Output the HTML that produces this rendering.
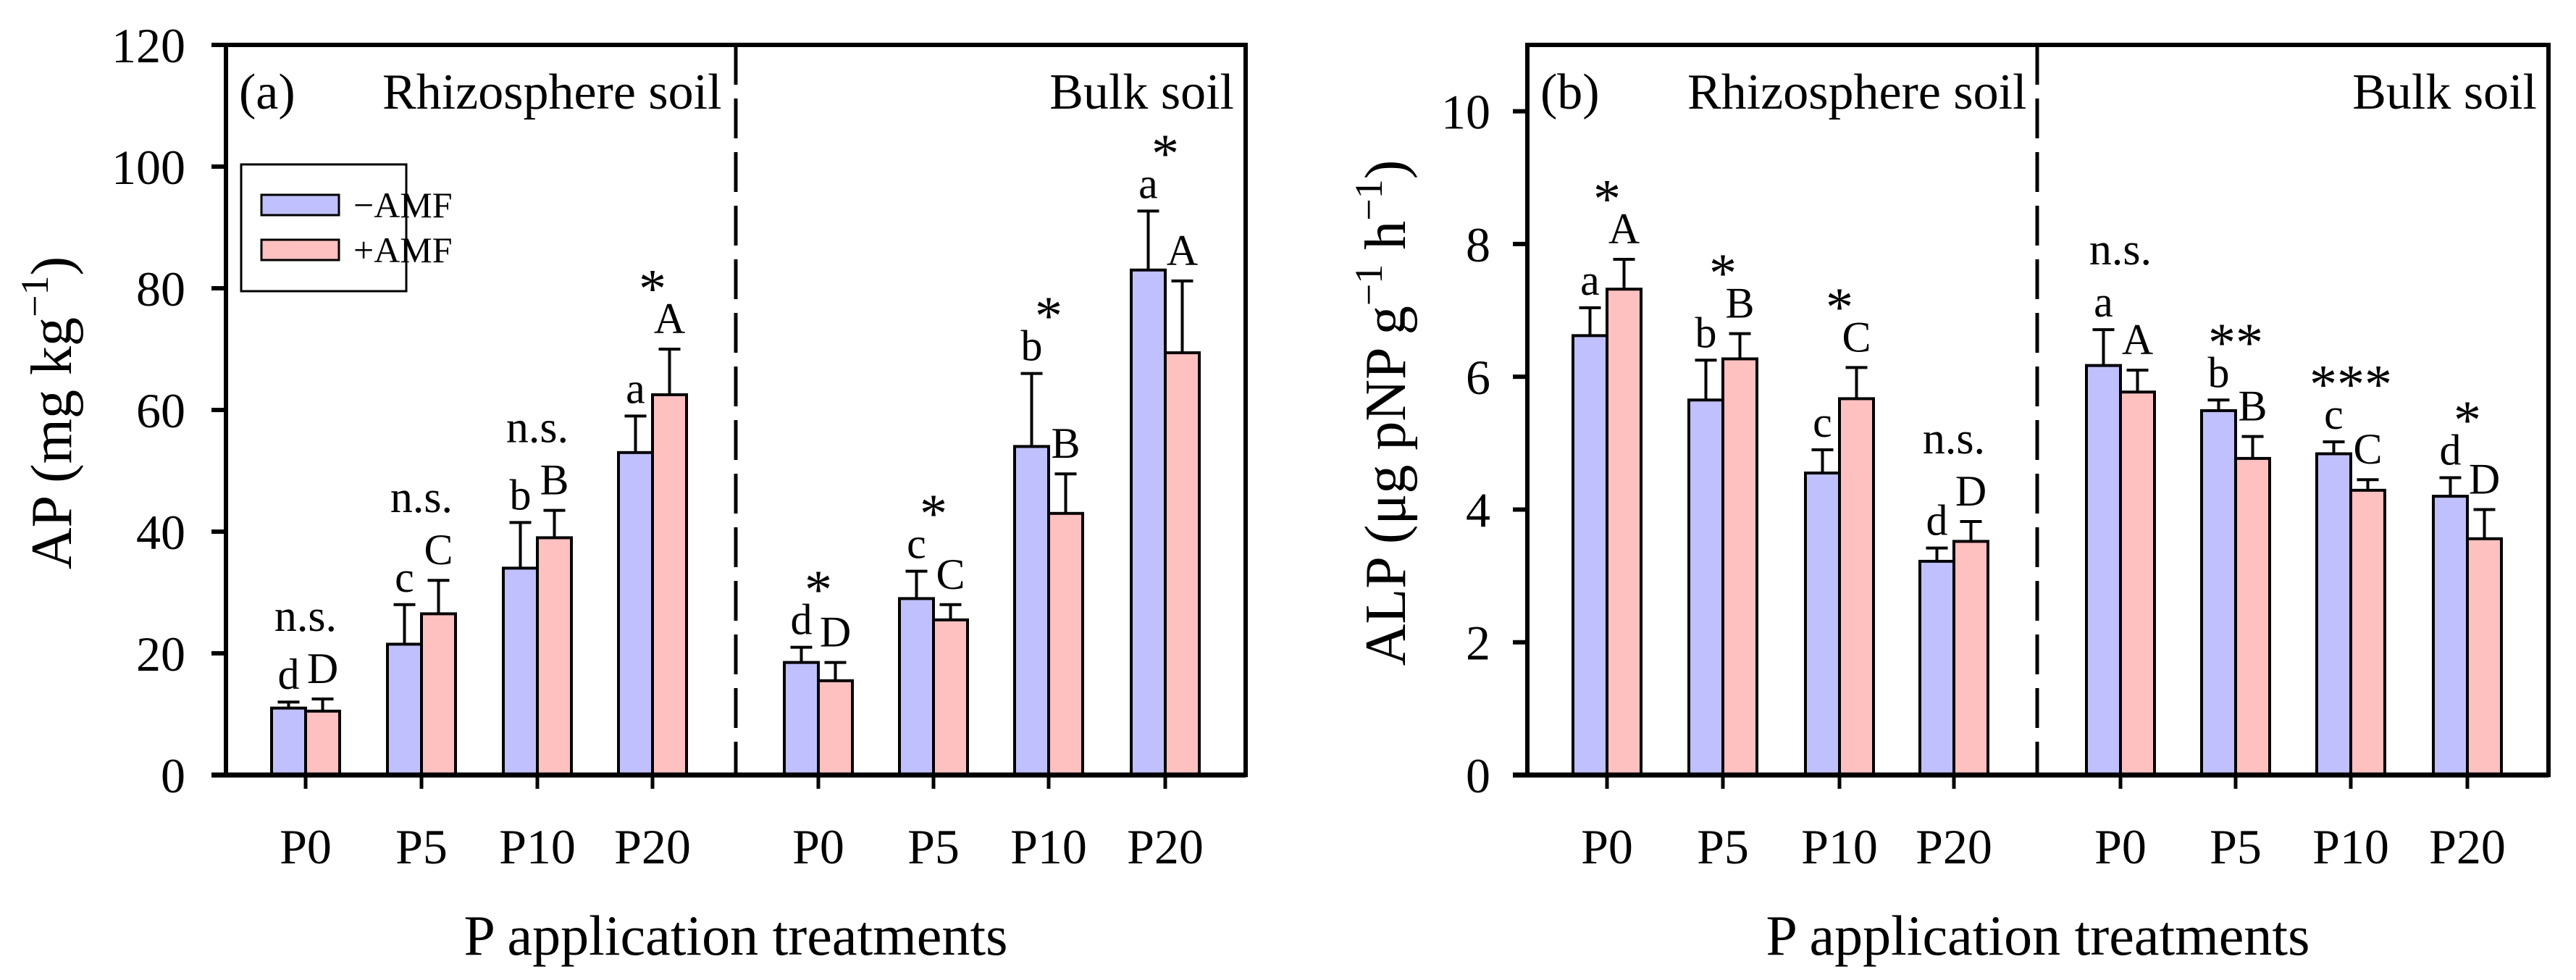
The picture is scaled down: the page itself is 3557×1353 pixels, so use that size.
<!DOCTYPE html>
<html><head><meta charset="utf-8">
<style>
html,body{margin:0;padding:0;background:#fff;}
svg{display:block;font-family:"Liberation Serif",serif;}
</style></head>
<body>
<svg id="chart" width="3557" height="1353" viewBox="0 0 3557 1353" xmlns="http://www.w3.org/2000/svg">
<rect x="0" y="0" width="3557" height="1353" fill="#fff"/>
</svg>
<script>
// ---- data ----
const categories = ["P0","P5","P10","P20","P0","P5","P10","P20"];
const apMinus = [11, 21.5, 34, 53, 18.5, 29, 54, 83];
const apMinusErr = [1, 6.5, 7.5, 6, 2.5, 4.5, 12, 9.7];
const apPlus = [10.5, 26.5, 39, 62.5, 15.5, 25.5, 43, 69.4];
const apPlusErr = [2, 5.5, 4.5, 7.5, 3, 2.5, 6.5, 11.8];
const apLower = ["d","c","b","a","d","c","b","a"];
const apUpper = ["D","C","B","A","D","C","B","A"];
const apSig = ["n.s.","n.s.","n.s.","*","*","*","*","*"];
const apTicks = [0,20,40,60,80,100,120];

const alpMinus = [6.62, 5.65, 4.55, 3.22, 6.17, 5.49, 4.84, 4.2];
const alpMinusErr = [0.42, 0.6, 0.35, 0.2, 0.54, 0.16, 0.18, 0.28];
const alpPlus = [7.32, 6.27, 5.67, 3.52, 5.77, 4.77, 4.29, 3.56];
const alpPlusErr = [0.45, 0.38, 0.47, 0.3, 0.33, 0.33, 0.16, 0.44];
const alpLower = ["a","b","c","d","a","b","c","d"];
const alpUpper = ["A","B","C","D","A","B","C","D"];
const alpSig = ["*","*","*","n.s.","n.s.","**","***","*"];
const alpTicks = [0,2,4,6,8,10];

const NS = "http://www.w3.org/2000/svg";
const svg = document.getElementById("chart");
function mk(tag, attrs, parent, text){
  const e = document.createElementNS(NS, tag);
  for (const k in attrs) e.setAttribute(k, attrs[k]);
  if (text !== undefined) e.textContent = text;
  (parent||svg).appendChild(e);
  return e;
}

function panel(cfg){
  const g = mk("g", {});
  
  
  const L = cfg.left, R = cfg.right, T = 62, B = 1070;
  const y = v => B - (v / cfg.ymax) * (B - T);
  const x = i => cfg.ticks[i];
  const bw = 47;

  for (let i = 0; i < categories.length; i++){
    const cx = x(i);
    const yb = y(cfg.minus[i]);
    const r1 = mk("rect", {x: cx - bw, y: yb, width: bw, height: B - yb, fill: "#c0c0ff", stroke: "#000", "stroke-width": 4}, g);
    
    
    const yp = y(cfg.plus[i]);
    const r2 = mk("rect", {x: cx, y: yp, width: bw, height: B - yp, fill: "#ffc0c0", stroke: "#000", "stroke-width": 4}, g);
    
    
    const e1 = y(cfg.minus[i] + cfg.minusErr[i]);
    const e2 = y(cfg.plus[i] + cfg.plusErr[i]);
    const mc = cx - bw/2, pc = cx + bw/2;
    const eb1 = mk("path", {d: `M${mc},${yb} V${e1} M${mc-15},${e1} H${mc+15}`, stroke: "#000", "stroke-width": 4, fill: "none"}, g);
    
    
    const eb2 = mk("path", {d: `M${pc},${yp} V${e2} M${pc-15},${e2} H${pc+15}`, stroke: "#000", "stroke-width": 4, fill: "none"}, g);
    
    
    const lb1 = e1 - 18, lb2 = e2 - 22;
    const t1 = mk("text", {x: mc, y: lb1, "font-size": 60, "text-anchor": "middle"}, g, cfg.lower[i]);
    
    
    const t2 = mk("text", {x: pc, y: lb2, "font-size": 60, "text-anchor": "middle"}, g, cfg.upper[i]);
    
    
    const top = Math.min(lb1, lb2);
    const s = cfg.sig[i];
    let st;
    if (s === "n.s."){
      st = mk("text", {x: cx, y: top - 72, "font-size": 62, "text-anchor": "middle"}, g, s);
    } else {
      st = mk("text", {x: cx, y: top - 36, "font-size": 76, "text-anchor": "middle"}, g, s);
    }
    
    
    const tk = mk("line", {x1: cx, y1: B, x2: cx, y2: B + 19, stroke: "#000", "stroke-width": 5}, g);
    
    
    const tl = mk("text", {x: cx, y: 1192, "font-size": 68, "text-anchor": "middle"}, g, categories[i]);
    
    
  }

  const dv = mk("line", {x1: cfg.divider, y1: T, x2: cfg.divider, y2: B, stroke: "#000", "stroke-width": 5, "stroke-dasharray": "55 19"}, g);
  
  

  const fr = mk("rect", {x: L, y: T, width: R - L, height: B - T, fill: "none", stroke: "#000", "stroke-width": 6}, g);
  
  
  const xl = mk("line", {x1: L - 20, y1: B, x2: R, y2: B, stroke: "#000", "stroke-width": 7}, g);
  
  

  for (const v of cfg.yticks){
    const yy = y(v);
    const l = mk("line", {x1: L - 20, y1: yy, x2: L, y2: yy, stroke: "#000", "stroke-width": 6}, g);
    
    
    const t = mk("text", {x: cfg.tickLabelX, y: yy + 24, "font-size": 68, "text-anchor": "end"}, g, String(v));
    
    
  }

  const pl = mk("text", {x: L + 18, y: 150, "font-size": 70}, g, cfg.tag);
  
  
  const rh = mk("text", {x: cfg.rhizoX, y: 150, "font-size": 70}, g, "Rhizosphere soil");
  
  
  const bk = mk("text", {x: R - 16, y: 150, "font-size": 70, "text-anchor": "end"}, g, "Bulk soil");
  
  
  const xt = mk("text", {x: (L + R)/2, y: 1318, "font-size": 78, "text-anchor": "middle"}, g, "P application treatments");
  
  
  return g;
}

panel({name: "panel-a-ap", left: 312, right: 1720, ymax: 120, ticks: [422,582,742,901,1130,1289,1448,1609],
  divider: 1016, minus: apMinus, minusErr: apMinusErr, plus: apPlus, plusErr: apPlusErr,
  lower: apLower, upper: apUpper, sig: apSig, yticks: apTicks, tickLabelX: 256, tag: "(a)", rhizoX: 528});
panel({name: "panel-b-alp", left: 2109, right: 3519, ymax: 11, ticks: [2219,2379,2540,2698,2928,3087,3246,3407],
  divider: 2813, minus: alpMinus, minusErr: alpMinusErr, plus: alpPlus, plusErr: alpPlusErr,
  lower: alpLower, upper: alpUpper, sig: alpSig, yticks: alpTicks, tickLabelX: 2058, tag: "(b)", rhizoX: 2330});

const ya = mk("text", {x: 0, y: 0, "font-size": 80, "text-anchor": "middle", transform: "translate(98,570) rotate(-90)"});


ya.innerHTML = 'AP (mg kg<tspan font-size="54" dy="-32">−1</tspan><tspan dy="32">)</tspan>';
const yb = mk("text", {x: 0, y: 0, "font-size": 80, "text-anchor": "middle", transform: "translate(1940,570) rotate(-90)"});


yb.innerHTML = 'ALP (μg pNP g<tspan font-size="54" dy="-32">−1</tspan><tspan dy="32"> h</tspan><tspan font-size="54" dy="-32">−1</tspan><tspan dy="32">)</tspan>';

const lg = mk("g", {});


const lbx = mk("rect", {x: 333, y: 227, width: 228, height: 175, fill: "#fff", stroke: "#000", "stroke-width": 3}, lg);


const s1 = mk("rect", {x: 361, y: 269, width: 107, height: 28, fill: "#c0c0ff", stroke: "#000", "stroke-width": 3}, lg);


const s2 = mk("rect", {x: 361, y: 331, width: 107, height: 28, fill: "#ffc0c0", stroke: "#000", "stroke-width": 3}, lg);


const l1 = mk("text", {x: 488, y: 300, "font-size": 50}, lg, "−AMF");


const l2 = mk("text", {x: 488, y: 362, "font-size": 50}, lg, "+AMF");


</script>
</body></html>
